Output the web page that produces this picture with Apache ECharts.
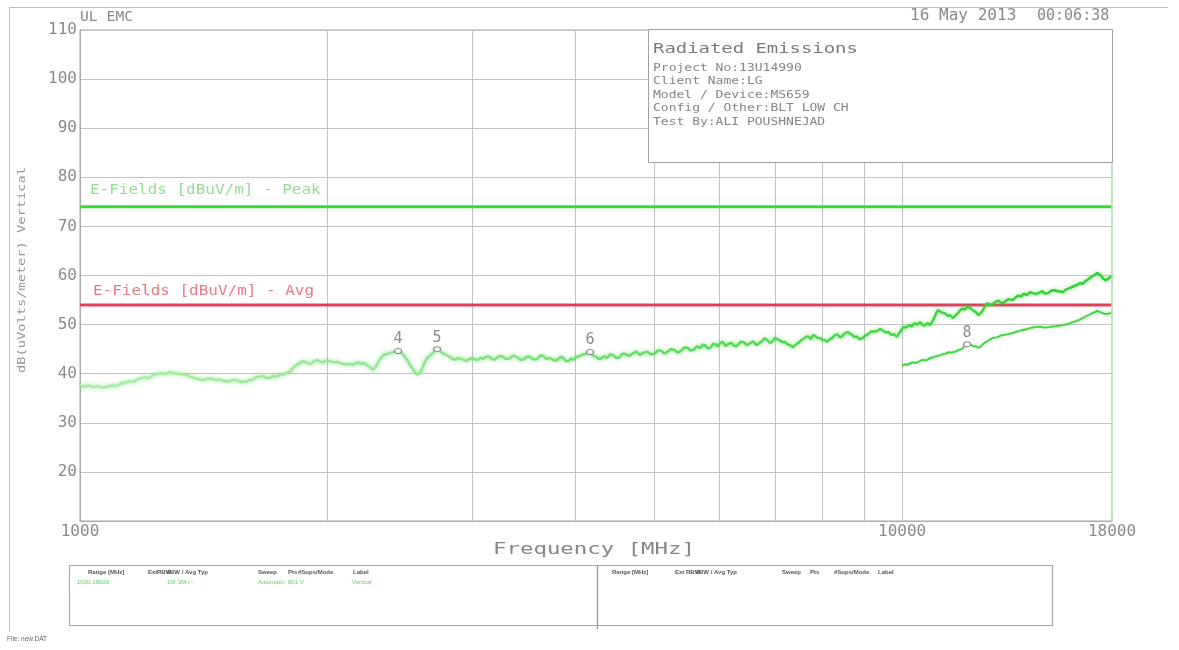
<!DOCTYPE html>
<html>
<head>
<meta charset="utf-8">
<script src="https://cdn.jsdelivr.net/npm/echarts@6/dist/echarts.min.js"></script>
<style>
html, body { margin: 0; padding: 0; background: #ffffff; }
#chart { width: 1179px; height: 650px; }
</style>
</head>
<body>
<div id="chart"></div>
<script>
// Frequency axis (MHz, log scale)
const FREQ_MIN = 1000;
const FREQ_MAX = 18000;
const freqGrid = [1000, 2000, 3000, 4000, 5000, 6000, 7000, 8000, 9000, 10000];
const freqLabels = [1000, 10000, 18000];

// Level axis (dBuV/m)
const LEVEL_MIN = 10;
const LEVEL_MAX = 110;
const LEVEL_STEP = 10;

// Limit lines
const limitNames = ['E-Fields [dBuV/m] - Peak', 'E-Fields [dBuV/m] - Avg'];
const limitLevels = [74, 54];

// Measured trace 1000-18000 MHz: [freq MHz, level dBuV/m]
const peakTrace = [
  [1000,37.8],[1012,37.3],[1025,37.6],[1040,37.2],[1053,37.5],[1066,37.1],[1080,37.4],[1095,37.6],[1109,37.5],[1122,38.0],
  [1136,38.2],[1150,38.5],[1162,38.3],[1173,38.8],[1187,39.1],[1200,39.3],[1214,39.1],[1227,39.7],[1241,39.9],[1255,40.1],
  [1270,39.9],[1287,40.3],[1303,40.1],[1320,40.0],[1335,39.8],[1350,39.7],[1365,39.3],[1380,39.1],[1395,38.9],[1411,38.7],
  [1428,39.0],[1445,39.0],[1462,38.7],[1480,38.8],[1497,38.5],[1515,38.4],[1533,38.7],[1552,38.7],[1570,38.3],[1590,38.4],
  [1607,38.7],[1623,38.8],[1637,39.3],[1650,39.4],[1670,39.5],[1685,39.2],[1700,39.1],[1718,39.5],[1736,39.4],[1752,39.8],
  [1770,39.9],[1785,40.2],[1800,40.4],[1812,41.0],[1825,41.5],[1838,41.9],[1852,42.2],[1866,42.5],[1880,42.4],[1895,42.1],
  [1910,42.0],[1926,42.5],[1942,42.8],[1958,42.5],[1975,42.3],[1992,42.7],[2010,42.6],[2032,42.3],[2054,42.4],[2077,42.1],
  [2100,41.9],[2124,42.0],[2148,41.8],[2165,42.2],[2180,42.3],[2195,42.0],[2209,42.2],[2225,41.9],[2240,41.6],[2256,41.2],
  [2272,40.8],[2286,41.3],[2300,42.0],[2318,43.0],[2337,43.8],[2358,44.0],[2380,44.2],[2410,44.4],[2437,44.6],[2455,44.3],
  [2470,44.0],[2485,43.4],[2499,42.8],[2520,41.8],[2540,41.0],[2555,40.3],[2570,39.8],[2585,40.1],[2600,40.6],[2620,41.9],
  [2643,43.2],[2660,43.6],[2680,44.0],[2700,44.6],[2718,45.0],[2738,44.7],[2760,44.2],[2790,43.8],[2819,43.4],[2840,43.0],
  [2860,42.8],[2880,43.2],[2899,43.1],[2925,42.8],[2950,42.6],[2975,43.0],[3000,43.2],[3025,42.9],[3050,42.8],[3070,43.3],
  [3092,43.0],[3120,43.5],[3150,43.4],[3175,42.9],[3200,42.9],[3230,43.5],[3260,43.6],[3295,43.0],[3330,43.1],[3365,43.7],
  [3401,43.4],[3430,42.9],[3460,42.8],[3490,43.4],[3520,43.5],[3560,42.9],[3600,43.0],[3630,43.7],[3660,43.6],[3695,43.0],
  [3730,43.2],[3765,42.8],[3800,42.7],[3835,43.4],[3870,43.3],[3900,42.6],[3930,42.6],[3955,43.1],[3978,42.8],[4015,43.4],
  [4050,43.6],[4085,43.9],[4120,44.0],[4145,44.3],[4173,44.4],[4205,43.7],[4240,43.5],[4270,43.1],[4300,43.0],[4340,43.6],
  [4375,43.2],[4410,43.9],[4450,43.8],[4490,43.2],[4530,43.3],[4570,44.1],[4610,44.0],[4660,43.6],[4707,44.2],[4750,44.5],
  [4800,43.8],[4850,44.3],[4900,44.5],[4950,43.9],[5000,44.1],[5050,44.8],[5100,44.6],[5140,44.1],[5176,44.4],[5230,45.0],
  [5280,44.9],[5330,44.3],[5380,44.6],[5430,45.3],[5480,45.3],[5530,44.7],[5580,44.9],[5630,45.6],[5679,45.2],[5720,45.9],
  [5760,45.8],[5800,45.1],[5850,45.3],[5890,46.1],[5930,46.0],[5965,45.5],[6004,46.2],[6050,46.5],[6100,45.6],[6150,46.1],
  [6200,46.3],[6250,45.6],[6300,45.7],[6360,46.5],[6420,46.4],[6475,45.8],[6531,46.2],[6590,46.6],[6650,45.8],[6700,46.2],
  [6750,46.6],[6800,47.2],[6850,46.9],[6900,46.3],[6950,46.5],[7000,47.3],[7043,47.1],[7100,46.8],[7150,46.4],[7200,46.5],
  [7250,46.0],[7310,45.8],[7366,45.4],[7420,45.9],[7480,46.3],[7540,46.8],[7600,47.2],[7650,47.6],[7700,47.5],[7745,47.0],
  [7792,47.9],[7850,47.6],[7900,47.2],[7950,47.3],[8000,46.8],[8050,46.9],[8103,46.5],[8160,47.0],[8220,47.3],[8290,47.9],
  [8350,48.0],[8400,47.4],[8450,47.6],[8510,48.2],[8570,48.5],[8620,48.3],[8680,48.0],[8740,47.5],[8800,47.6],[8880,47.0],
  [8965,47.3],[9030,47.8],[9100,48.1],[9170,48.6],[9250,48.6],[9320,48.7],[9400,49.1],[9470,48.8],[9550,48.4],[9620,48.5],
  [9700,47.9],[9780,48.0],[9858,47.5],[9910,48.2],[9950,48.6],[9990,49.0],[10025,49.5],[10110,49.4],[10200,49.9],[10280,49.6],
  [10350,50.3],[10430,50.0],[10515,50.5],[10580,50.0],[10650,49.8],[10730,50.3],[10813,49.9],[10880,50.6],[10950,51.5],[11000,52.3],
  [11057,53.0],[11130,52.6],[11200,52.4],[11280,52.3],[11350,51.8],[11440,51.9],[11533,51.3],[11620,51.9],[11700,52.4],[11770,53.0],
  [11850,53.3],[11920,53.0],[11995,53.6],[12100,53.4],[12200,52.9],[12260,52.6],[12320,52.4],[12380,51.9],[12440,52.0],[12500,52.6],
  [12560,53.2],[12620,53.7],[12686,54.4],[12790,54.0],[12900,54.2],[13000,54.7],[13100,54.9],[13200,54.4],[13300,54.5],[13470,55.2],
  [13640,55.0],[13750,55.6],[13850,55.9],[13950,55.7],[14050,56.3],[14180,56.0],[14305,56.6],[14430,56.4],[14550,56.2],[14680,56.5],
  [14800,56.8],[14920,56.3],[15050,56.4],[15180,56.9],[15300,57.0],[15500,56.8],[15693,56.6],[15800,57.1],[15900,57.3],[16050,57.6],
  [16200,57.9],[16330,58.1],[16460,58.5],[16580,58.3],[16700,58.8],[16820,59.2],[16950,59.6],[17100,60.0],[17270,60.5],[17360,60.3],
  [17450,60.0],[17530,59.5],[17600,59.3],[17680,59.0],[17760,59.1],[17830,59.4],[17900,59.6],[17950,59.8],[18000,60.1]
];

// Second trace 10000-18000 MHz
const lowerTrace = [
  [10000,41.6],[10080,41.9],[10150,41.8],[10230,42.1],[10300,42.3],[10400,42.2],[10515,42.6],[10600,42.8],[10700,42.7],[10813,43.2],
  [10900,43.3],[11000,43.6],[11100,43.7],[11200,44.0],[11300,44.1],[11400,44.4],[11470,44.3],[11533,44.6],[11620,44.5],[11700,44.8],
  [11780,44.9],[11850,45.2],[11920,45.6],[11995,46.0],[12070,45.9],[12150,45.8],[12230,45.5],[12300,45.6],[12370,45.3],[12440,45.4],
  [12520,45.9],[12600,46.3],[12750,46.8],[12900,47.3],[13050,47.4],[13200,47.8],[13420,48.0],[13640,48.3],[13820,48.6],[14000,48.9],
  [14150,49.0],[14305,49.3],[14500,49.5],[14700,49.6],[14900,49.4],[15100,49.5],[15400,49.7],[15693,49.9],[15950,50.2],[16200,50.6],
  [16450,51.0],[16700,51.6],[16980,52.2],[17270,52.8],[17380,52.6],[17500,52.4],[17630,52.2],[17760,52.2],[17880,52.3],[18000,52.4]
];

// Markers
const markerIds = ['4', '5', '6', '8'];
const markerFreq = [2437, 2718, 4173, 11995];
const markerLevel = [44.6, 45.0, 44.4, 46.0];
const markerOnLower = [false, false, false, true];

// Header / info texts
const infoTitle = 'Radiated Emissions';
const infoLines = [
  'Project No:13U14990',
  'Client Name:LG',
  'Model / Device:MS659',
  'Config / Other:BLT LOW CH',
  'Test By:ALI POUSHNEJAD'
];
const tableHeaders = ['Range [MHz]', 'Ext', 'RBW', 'VBW / Avg Typ', 'Sweep', 'Pts', '#Sups/Mode', 'Label'];
const tableRow = ['1000-18000', '1M', '3M / -', 'Automatic', '801', 'V', 'Vertical'];

const MONO = "'DejaVu Sans Mono', 'Liberation Mono', monospace";
const GRAY = '#8a8a8a';

const chart = echarts.init(document.getElementById('chart'), null, { renderer: 'canvas' });

function markerPoints(onLower) {
  const pts = [];
  markerIds.forEach((id, i) => {
    if (markerOnLower[i] === onLower) {
      pts.push({ name: id, value: id, coord: [markerFreq[i], markerLevel[i]] });
    }
  });
  return pts;
}

const markPointStyle = {
  symbol: 'circle',
  symbolSize: [7, 5],
  silent: true,
  itemStyle: { color: '#ffffff', borderColor: '#8a8a8a', borderWidth: 1.2 },
  label: {
    show: true, position: 'top', distance: 1,
    formatter: p => p.name,
    color: '#8a8a8a', fontFamily: MONO, fontSize: 15
  }
};

function txt(x, y, text, opt) {
  opt = opt || {};
  return {
    type: 'text', x: x, y: y, z: 100, silent: true,
    scaleX: opt.sx || 1, rotation: opt.rot || 0,
    style: {
      text: text, fill: opt.color || GRAY,
      font: (opt.weight || 'normal') + ' ' + (opt.size || 12) + 'px ' + (opt.family || MONO),
      textAlign: opt.align || 'left', textVerticalAlign: 'middle'
    }
  };
}

// Graphic decorations: frame, info box, titles and bottom table
const graphics = [];
graphics.push({ type: 'polyline', z: 100, silent: true,
  shape: { points: [[9.5, 632], [9.5, 7.5], [1168, 7.5]] },
  style: { stroke: '#bcbcbc', lineWidth: 1, fill: null } });
graphics.push(txt(80, 17, 'UL EMC', { size: 14, sx: 1.05 }));
graphics.push(txt(910, 16, '16 May 2013', { size: 15, sx: 1.07 }));
graphics.push(txt(1037, 16, '00:06:38', { size: 15, sx: 1.0 }));
graphics.push({ type: 'rect', z: 100, silent: true,
  shape: { x: 648.5, y: 29.5, width: 464, height: 133 },
  style: { fill: '#ffffff', stroke: '#a0a0a0', lineWidth: 1 } });
graphics.push(txt(653, 49, infoTitle, { size: 14, sx: 1.35, color: '#7a7a7a' }));
infoLines.forEach((s, i) => graphics.push(txt(653, 68 + i * 13.5, s, { size: 10, sx: 1.3, color: '#858585' })));
graphics.push(txt(22, 270, 'dB(uVolts/meter) Vertical', { size: 10, sx: 1.37, rot: Math.PI / 2, align: 'center', color: '#969696' }));
graphics.push(txt(594, 550, 'Frequency [MHz]', { size: 15, sx: 1.49, align: 'center', color: '#858585' }));
graphics.push(txt(90, 190, limitNames[0], { size: 14, sx: 1.14, color: '#92df92' }));
graphics.push(txt(93, 291, limitNames[1], { size: 14, sx: 1.14, color: '#e57b88' }));

// Bottom settings table
graphics.push({ type: 'rect', z: 100, silent: true,
  shape: { x: 69.5, y: 565.5, width: 983, height: 60 },
  style: { fill: null, stroke: '#a8a8a8', lineWidth: 1.2 } });
graphics.push({ type: 'line', z: 100, silent: true,
  shape: { x1: 597.5, y1: 565.5, x2: 597.5, y2: 629 },
  style: { stroke: '#909090', lineWidth: 1.2 } });
const leftHeadX = [88, 148, 157, 166, 258, 288, 298, 353];
const rightHeadX = [612, 675, 686, 695, 782, 810, 834, 878];
const rowX = [77, 167, 178, 258, 288, 300, 352];
tableHeaders.forEach((h, i) => {
  graphics.push(txt(leftHeadX[i], 572, h, { size: 6, family: "'Liberation Sans', sans-serif", color: '#555555', weight: 'bold' }));
  graphics.push(txt(rightHeadX[i], 572, h, { size: 6, family: "'Liberation Sans', sans-serif", color: '#555555', weight: 'bold' }));
});
tableRow.forEach((s, i) => {
  graphics.push(txt(rowX[i], 582, s, { size: 6, family: "'Liberation Sans', sans-serif", color: '#5fd35f' }));
});
graphics.push(txt(7, 639, 'File: new.DAT', { size: 6.5, family: "'Liberation Sans', sans-serif", color: '#666666' }));

const option = {
  backgroundColor: '#ffffff',
  animation: false,
  grid: {
    left: 80, right: 67, top: 30, bottom: 129,
    show: true, borderColor: '#ababab', borderWidth: 1, backgroundColor: 'transparent'
  },
  xAxis: {
    type: 'log', logBase: 10, min: FREQ_MIN, max: FREQ_MAX,
    axisLine: { show: true, lineStyle: { color: '#ababab', width: 1 } },
    axisTick: { show: false, customValues: freqGrid },
    axisLabel: {
      customValues: freqLabels, formatter: v => String(Math.round(v)),
      color: GRAY, fontFamily: MONO, fontSize: 16, margin: 3
    },
    splitLine: { show: true, lineStyle: { color: '#c2c2c2', width: 1 } },
    minorTick: { show: false }, minorSplitLine: { show: false }
  },
  yAxis: {
    type: 'value', min: LEVEL_MIN, max: LEVEL_MAX, interval: LEVEL_STEP,
    axisLine: { show: true, lineStyle: { color: '#ababab', width: 1 } },
    axisTick: { show: false },
    axisLabel: {
      formatter: v => (v === LEVEL_MIN ? '' : String(v)),
      color: GRAY, fontFamily: MONO, fontSize: 16, margin: 3
    },
    splitLine: { show: true, lineStyle: { color: '#c2c2c2', width: 1 } }
  },
  graphic: graphics,
  series: [
    {
      name: limitNames[0], type: 'line', z: 3, silent: true,
      data: [[FREQ_MIN, limitLevels[0]], [FREQ_MAX, limitLevels[0]]],
      symbol: 'none',
      lineStyle: { color: '#35dc35', width: 3 },
      markLine: {
        silent: true, symbol: 'none', label: { show: false },
        lineStyle: { color: '#b6ecb6', width: 1.5, type: 'solid' },
        data: [{ xAxis: FREQ_MAX }]
      }
    },
    {
      name: limitNames[1], type: 'line', z: 3, silent: true,
      data: [[FREQ_MIN, limitLevels[1]], [FREQ_MAX, limitLevels[1]]],
      symbol: 'none',
      lineStyle: { color: '#dc4258', width: 3 }
    },
    {
      name: 'Trace', type: 'line', z: 4, silent: true,
      data: peakTrace, symbol: 'none',
      lineStyle: {
        width: 2.4,
        color: new echarts.graphic.LinearGradient(0, 0, 1, 0, [
          { offset: 0, color: '#aeecae' },
          { offset: 0.35, color: '#8ee48e' },
          { offset: 0.6, color: '#58da58' },
          { offset: 1, color: '#2cd02c' }
        ]),
        shadowBlur: 4, shadowColor: 'rgba(70,215,70,0.6)'
      },
      markPoint: Object.assign({ data: markerPoints(false) }, markPointStyle)
    },
    {
      name: 'Trace 2', type: 'line', z: 4, silent: true,
      data: lowerTrace, symbol: 'none',
      lineStyle: { width: 1.8, color: '#40d240', shadowBlur: 3, shadowColor: 'rgba(60,215,60,0.5)' },
      markPoint: Object.assign({ data: markerPoints(true) }, markPointStyle)
    }
  ]
};

chart.setOption(option);
</script>
</body>
</html>
